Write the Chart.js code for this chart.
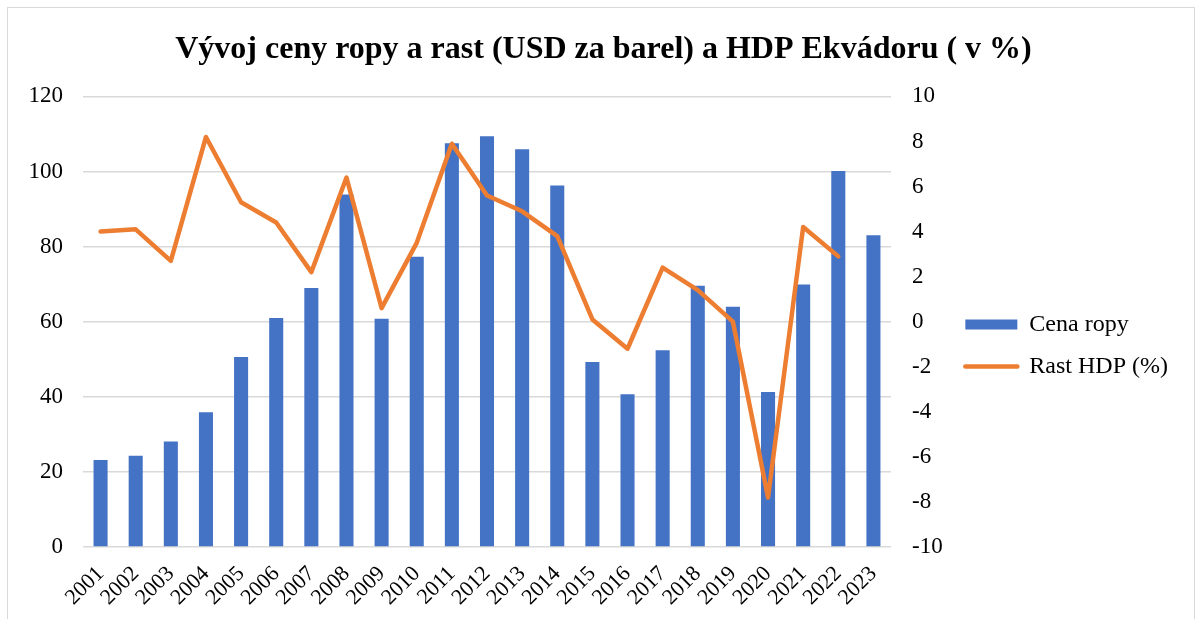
<!DOCTYPE html>
<html>
<head>
<meta charset="utf-8">
<script src="https://cdn.jsdelivr.net/npm/chart.js@4.4.1/dist/chart.umd.min.js"></script>
<style>
  body { margin: 0; background: #fff; }
  .frame { position: absolute; left: 7px; top: 7px; width: 1186px; height: 700px; border: 1px solid #d9d9d9; }
  .wrap { position: absolute; left: 0; top: 0; width: 1195px; height: 619px; }
</style>
</head>
<body>
<div class="frame"></div>
<div class="wrap"><canvas id="chart"></canvas></div>
<script>
// Data
const years = ['2001', '2002', '2003', '2004', '2005', '2006', '2007', '2008', '2009', '2010', '2011', '2012',
  '2013', '2014', '2015', '2016', '2017', '2018', '2019', '2020', '2021', '2022', '2023'];
const oilPrice = [23.2, 24.3, 28.1, 35.9, 50.6, 61.0, 69.0, 93.9, 60.8, 77.3, 107.5, 109.4,
  105.9, 96.3, 49.3, 40.7, 52.4, 69.6, 64.0, 41.3, 69.9, 100.1, 83.0];
const gdpGrowth = [4.0, 4.1, 2.7, 8.2, 5.3, 4.4, 2.2, 6.4, 0.6, 3.5, 7.9, 5.6,
  4.9, 3.8, 0.1, -1.2, 2.4, 1.4, 0.0, -7.8, 4.2, 2.9, null];
const priceTicks = [0, 120, 20];
const gdpTicks = [-10, 10, 2];

Chart.defaults.font.family = '"Liberation Serif", "Times New Roman", serif';
Chart.defaults.color = '#000';

const padRight = 17;

// title centred on the framed picture, legend sitting a bit lower like in Excel
const layoutTweak = {
  id: 'layoutTweak',
  afterLayout(chart) {
    chart.titleBlock.left = 29;
    chart.legend.top = 72;
  }
};

const ctx = document.getElementById('chart');

new Chart(ctx, {
  type: 'bar',
  data: {
    labels: years,
    datasets: [{
      label: 'Cena ropy',
      data: oilPrice,
      backgroundColor: '#4472C4',
      borderWidth: 0,
      barPercentage: 0.4,
      categoryPercentage: 1,
      yAxisID: 'y',
      order: 1
    }, {
      type: 'line',
      label: 'Rast HDP (%)',
      data: gdpGrowth,
      borderColor: '#ED7D31',
      backgroundColor: '#ED7D31',
      borderWidth: 4.5,
      borderCapStyle: 'round',
      borderJoinStyle: 'round',
      pointRadius: 0,
      tension: 0,
      yAxisID: 'y1',
      order: 0
    }]
  },
  plugins: [layoutTweak],
  options: {
    responsive: true,
    maintainAspectRatio: false,
    animation: false,
    layout: {
      padding: { left: 0, right: padRight, top: 0, bottom: 0 }
    },
    plugins: {
      tooltip: { enabled: false },
      title: {
        display: true,
        text: 'Vývoj ceny ropy a rast (USD za barel) a HDP Ekvádoru ( v %)',
        font: { size: 32, weight: 'bold' },
        padding: { top: 31, bottom: 27 }
      },
      legend: {
        position: 'right',
        maxWidth: 300,
        labels: {
          usePointStyle: true,
          pointStyleWidth: 52,
          boxHeight: 10,
          padding: 18,
          font: { size: 24 },
          sort: (a, b) => a.datasetIndex - b.datasetIndex,
          generateLabels: (chart) => {
            const items = Chart.defaults.plugins.legend.labels.generateLabels(chart);
            items.forEach(item => {
              if (item.datasetIndex === 1) {
                item.pointStyle = 'line';
                item.lineWidth = 4.5;
                item.lineCap = 'round';
                item.strokeStyle = '#ED7D31';
              } else {
                item.pointStyle = 'rect';
                item.lineWidth = 0;
              }
            });
            return items;
          }
        }
      }
    },
    scales: {
      x: {
        grid: { display: false },
        border: { display: false },
        ticks: {
          autoSkip: false,
          minRotation: 45,
          maxRotation: 45,
          padding: 6,
          font: { size: 22 }
        },
        afterFit: (s) => { s.height = 72; }
      },
      y: {
        position: 'left',
        min: priceTicks[0],
        max: priceTicks[1],
        ticks: { stepSize: priceTicks[2], padding: 20, font: { size: 23 } },
        grid: { color: '#d9d9d9', lineWidth: 1.5, drawTicks: false },
        border: { display: false },
        afterFit: (s) => { s.width = 83; }
      },
      y1: {
        position: 'right',
        min: gdpTicks[0],
        max: gdpTicks[1],
        ticks: { stepSize: gdpTicks[2], padding: 21, font: { size: 23 } },
        grid: { display: false, drawTicks: false },
        border: { display: false },
        afterFit: (s) => { s.width = s.chart.width - padRight - s.chart.legend.width - 891; }
      }
    }
  }
});
</script>
</body>
</html>
